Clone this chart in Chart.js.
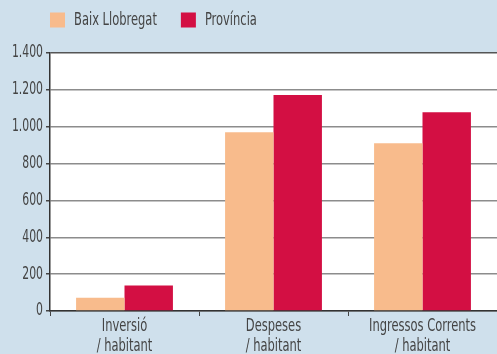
<!DOCTYPE html>
<html><head><meta charset="utf-8">
<script src="https://cdn.jsdelivr.net/npm/chart.js@4/dist/chart.umd.min.js"></script>
<style>html,body{margin:0;padding:0;background:#cfe0ec;}#wrap{width:497px;height:354px;}</style>
</head><body><div id="wrap"><canvas id="c" width="497" height="354"></canvas></div>
<script>
const categories = [["Inversió","/ habitant"],["Despeses","/ habitant"],["Ingressos Corrents","/ habitant"]];
const seriesNames = ["Baix Llobregat","Província"];
const baixLlobregat = [72, 970, 910];
const provincia = [138, 1172, 1078];
const yTicks = [0,200,400,600,800,1000,1200,1400];

const FONT = "'Liberation Sans Narrow', 'DejaVu Sans Condensed', sans-serif";
const SX = 0.71; // condensed lettering of the original
const canvas = document.getElementById('c');
const ctx = canvas.getContext('2d');
const origFill = ctx.fillText.bind(ctx);
const origMeasure = ctx.measureText.bind(ctx);
ctx.fillText = function(t,x,y,mw){ctx.save();ctx.translate(x,y);ctx.scale(SX,1);origFill(t,0,0);ctx.restore();};
ctx.measureText = function(t){const m=origMeasure(t);return {width:m.width*SX,actualBoundingBoxAscent:m.actualBoundingBoxAscent,actualBoundingBoxDescent:m.actualBoundingBoxDescent,actualBoundingBoxLeft:m.actualBoundingBoxLeft*SX,actualBoundingBoxRight:m.actualBoundingBoxRight*SX};};

const whiteArea = {id:'whiteArea',
  afterLayout(chart){ if(chart.legend){chart.legend.left += 26; chart.legend.right += 26;} },
  afterDraw(chart){const a=chart.chartArea,c=chart.ctx;c.save();c.globalCompositeOperation='destination-over';c.fillStyle='#ffffff';c.fillRect(a.left,a.top,a.right-a.left,a.bottom-a.top);c.restore();}};
new Chart(ctx,{
  type:'bar',
  data:{labels:categories,datasets:[
    {label:seriesNames[0],data:baixLlobregat,backgroundColor:'#f8bb8c'},
    {label:seriesNames[1],data:provincia,backgroundColor:'#d30f43'}
  ]},
  options:{
    responsive:false,animation:false,
    layout:{padding:{left:0,right:0,top:-13,bottom:0}},
    categoryPercentage:0.65,barPercentage:1,
    plugins:{
      tooltip:{enabled:false},
      title:{display:true,text:'',weight:500,font:{size:10,lineHeight:1},padding:{top:2,bottom:2}},
      legend:{align:'start',labels:{boxWidth:15,boxHeight:15,padding:24,color:'#444',font:{family:FONT,size:18}}}
    },
    scales:{
      x:{afterFit(s){s.height=43;},grid:{drawOnChartArea:false,tickLength:5,color:'#444',offset:true},border:{color:'#333',width:1.5},
         ticks:{color:'#444',font:{family:FONT,size:18,lineHeight:20/18},padding:0,maxRotation:0,autoSkip:false}},
      y:{min:0,max:1400,afterBuildTicks(s){s.ticks=yTicks.map(v=>({value:v}));},afterFit(s){s.width=50;},
         grid:{color:c=>c.tick&&c.tick.value===1400?'#555':'#8c8c8c',lineWidth:1.5,tickLength:4,tickColor:'#444'},border:{color:'#333',width:1.5},
         ticks:{color:'#444',font:{family:FONT,size:17},padding:3,callback:v=>v.toLocaleString('de-DE')}}
    }
  },
  plugins:[whiteArea]
});
</script></body></html>
